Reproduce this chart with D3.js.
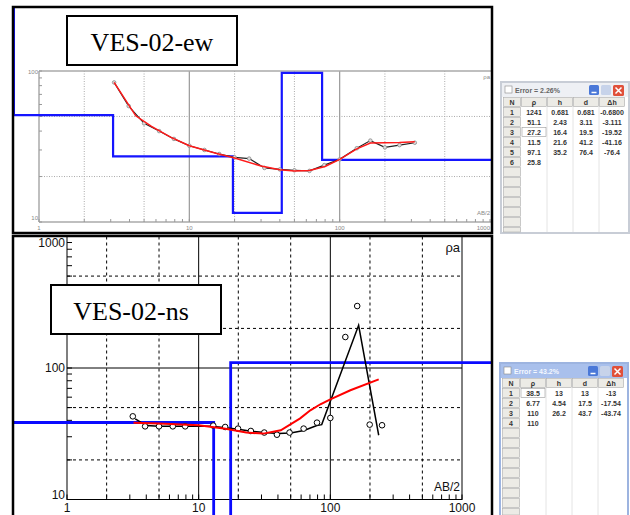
<!DOCTYPE html>
<html><head><meta charset="utf-8">
<script src="https://cdn.jsdelivr.net/npm/d3@7"></script>
<style>body{margin:0;background:#fff}svg{display:block}</style>
</head><body>
<script>
// ---------- DATA ----------
// Top panel (VES-02-ew)
const ewObsAB  = [3.16, 3.95, 5.0, 6.3, 7.9, 10, 12.6, 15.8, 20, 25, 31.6, 40, 50, 63, 79, 100, 130, 160, 200, 250, 316];
const ewObsRho = [84, 58.6, 45, 40, 35.5, 32, 30, 28.2, 26.8, 26.3, 22.8, 22.3, 22, 21.8, 23.8, 26, 30.8, 34.6, 31.2, 32.3, 33.5];
const ewCalcAB  = [3.16, 4.4, 5.6, 7.5, 10, 15, 20, 30, 40, 50, 63, 80, 100, 130, 160, 200, 250, 316];
const ewCalcRho = [84, 50.5, 43, 36.5, 32, 28.5, 26.5, 23.5, 22.2, 21.8, 21.9, 23.3, 26, 30.5, 33.3, 33.5, 33.6, 34];
const ewLayerRho = [1241, 51.1, 27.2, 11.5, 97.1, 25.8];
const ewLayerH   = ["0.681", "2.43", "16.4", "21.6", "35.2"];
const ewLayerD   = [0.681, 3.11, 19.5, 41.2, 76.4];
const ewLayerDh  = ["-0.6800", "-3.111", "-19.52", "-41.16", "-76.4"];
const ewRhoTxt   = ["1241", "51.1", "27.2", "11.5", "97.1", "25.8"];
const ewDTxt     = ["0.681", "3.11", "19.5", "41.2", "76.4"];
// Bottom panel (VES-02-ns)
const nsObsAB  = [3.16, 3.92, 5.0, 6.36, 7.9, 12.9, 15.9, 19.9, 24.9, 31.5, 39.3, 49, 62.7, 79.2, 100, 130, 160, 199, 247];
const nsObsRho = [42.9, 36, 36, 36, 36, 36.5, 35.6, 34.6, 33.2, 32.3, 31.1, 32.3, 34.6, 38.4, 41.7, 172, 296, 37.1, 36.7];
const nsLineAB  = [3.3, 4, 5, 8, 12.6, 16, 20, 25, 31.6, 40, 50, 63, 79, 86, 164, 233];
const nsLineRho = [41, 36.5, 36, 36, 36, 35.2, 34.2, 33, 32.3, 31.7, 32, 33.5, 36.5, 37.1, 211, 30.8];
const nsCalcAB  = [3.2, 5, 10, 16, 23, 31, 42, 59, 70.5, 84, 100, 142, 233];
const nsCalcRho = [38.4, 37.8, 36.7, 34.5, 32.3, 31.7, 33.6, 41.4, 47.7, 53, 57.8, 67.7, 82];
const nsLayerRho = [38.5, 6.77, 110, 110];
const nsLayerD   = [13, 17.5, 43.7];
const nsRhoTxt   = ["38.5", "6.77", "110", "110"];
const nsHTxt     = ["13", "4.54", "26.2"];
const nsDTxt     = ["13", "17.5", "43.7"];
const nsDhTxt    = ["-13", "-17.54", "-43.74"];
const xTickLabels = [1, 10, 100, 1000];
const titles = ["VES-02-ew", "VES-02-ns"];
const errTitles = ["Error = 2.26%", "Error = 43.2%"];
const tableHeads = ["N", "\u03C1", "h", "d", "\u0394h"];

// ---------- SETUP ----------
const svg = d3.select("body").append("svg").attr("width", 630).attr("height", 515);
svg.append("rect").attr("width", 630).attr("height", 515).attr("fill", "#fff");
const defs = svg.append("defs");
defs.append("clipPath").attr("id", "clipTop").append("rect").attr("x", 14).attr("y", 8).attr("width", 477).attr("height", 225);
defs.append("clipPath").attr("id", "clipBot").append("rect").attr("x", 14).attr("y", 237).attr("width", 477).attr("height", 280);

function modelPath(x, y, rhos, depths) {
  const pts = [];
  let prev = 0.001;
  rhos.forEach((r, i) => {
    const d = i < depths.length ? depths[i] : 1e5;
    pts.push([prev, r]); pts.push([d, r]);
    prev = d;
  });
  return d3.line().x(p => x(p[0])).y(p => y(p[1]))(pts);
}
const zip = (a, b) => a.map((v, i) => [v, b[i]]);

// ---------- TOP PANEL ----------
{
  const xT = d3.scaleLog().domain([1, 1000]).range([39, 490]);
  const yT = d3.scaleLog().domain([10, 100]).range([222, 71]);
  const g = svg.append("g").attr("clip-path", "url(#clipTop)");
  const gridX = [2, 5, 20, 50, 200, 500];
  const gridY = [20, 50];
  g.selectAll(".gx").data(gridX).join("line")
    .attr("x1", d => xT(d)).attr("x2", d => xT(d)).attr("y1", yT(100)).attr("y2", yT(10))
    .attr("stroke", "#aaa").attr("stroke-width", 1).attr("stroke-dasharray", "1,1.5");
  g.selectAll(".gy").data(gridY).join("line")
    .attr("x1", xT(1)).attr("x2", 492).attr("y1", d => yT(d)).attr("y2", d => yT(d))
    .attr("stroke", "#aaa").attr("stroke-width", 1).attr("stroke-dasharray", "1,1.5");
  g.selectAll(".sx").data([10, 100]).join("line")
    .attr("x1", d => xT(d)).attr("x2", d => xT(d)).attr("y1", yT(100)).attr("y2", yT(10))
    .attr("stroke", "#999").attr("stroke-width", 1.2);
  // axes
  g.append("line").attr("x1", xT(1)).attr("x2", 492).attr("y1", yT(100)).attr("y2", yT(100)).attr("stroke", "#aaa").attr("stroke-width", 1.5);
  g.append("line").attr("x1", xT(1)).attr("x2", 492).attr("y1", yT(10)).attr("y2", yT(10)).attr("stroke", "#aaa").attr("stroke-width", 1.5);
  g.append("line").attr("x1", xT(1)).attr("x2", xT(1)).attr("y1", yT(100)).attr("y2", yT(10)).attr("stroke", "#aaa").attr("stroke-width", 1.5);
  g.selectAll(".ty").data(yT.ticks()).join("line")
    .attr("x1", xT(1)).attr("x2", xT(1) + 3).attr("y1", d => yT(d)).attr("y2", d => yT(d)).attr("stroke", "#999");
  g.selectAll(".tx").data(xT.ticks()).join("line")
    .attr("x1", d => xT(d)).attr("x2", d => xT(d)).attr("y1", yT(10)).attr("y2", yT(10) - 3).attr("stroke", "#999");
  // labels
  const lab = svg.append("g").attr("font-family", "Liberation Sans, Arial, sans-serif").attr("font-size", 6).attr("fill", "#888");
  lab.append("text").attr("x", xT(1) - 1).attr("y", yT(100) + 3).attr("text-anchor", "end").text("100");
  lab.append("text").attr("x", xT(1) - 1).attr("y", yT(10) - 2).attr("text-anchor", "end").text("10");
  lab.selectAll(".xl").data(xTickLabels).join("text")
    .attr("x", d => xT(d)).attr("y", yT(10) + 8).attr("text-anchor", d => d === 1000 ? "end" : "middle").text(d => d);
  lab.append("text").attr("x", 490).attr("y", 79).attr("text-anchor", "end").text("\u03C1a");
  lab.append("text").attr("x", 490).attr("y", 215).attr("text-anchor", "end").text("AB/2");
  // model
  g.append("path").attr("d", modelPath(xT, yT, ewLayerRho, ewLayerD)).attr("fill", "none").attr("stroke", "#1515ff").attr("stroke-width", 2.2);
  // observed
  const line = d3.line().x(p => xT(p[0])).y(p => yT(p[1]));
  g.append("path").attr("d", line(zip(ewObsAB, ewObsRho))).attr("fill", "none").attr("stroke", "#222").attr("stroke-width", 1.2);
  g.selectAll(".ob").data(zip(ewObsAB, ewObsRho)).join("circle")
    .attr("cx", p => xT(p[0])).attr("cy", p => yT(p[1])).attr("r", 1.8)
    .attr("fill", "#ddd").attr("stroke", "#888").attr("stroke-width", 0.8);
  g.append("path").attr("d", line(zip(ewCalcAB, ewCalcRho))).attr("fill", "none").attr("stroke", "#ff1a1a").attr("stroke-width", 1.5);
  // title box
  svg.append("rect").attr("x", 67).attr("y", 16).attr("width", 170).attr("height", 49).attr("fill", "#fff").attr("stroke", "#000").attr("stroke-width", 2);
  svg.append("text").attr("x", 152).attr("y", 51).attr("text-anchor", "middle")
    .attr("font-family", "Liberation Serif, Times New Roman, serif").attr("font-size", 26).text(titles[0]);
  svg.append("rect").attr("x", 13).attr("y", 7).attr("width", 479).attr("height", 226).attr("fill", "none").attr("stroke", "#000").attr("stroke-width", 2.5);
}

// ---------- BOTTOM PANEL ----------
{
  const xB = d3.scaleLog().domain([1, 1000]).range([67, 462]);
  const yB = d3.scaleLog().domain([10, 1000]).range([499.5, 236.5]);
  const g = svg.append("g").attr("clip-path", "url(#clipBot)");
  const gridX = [2, 5, 20, 50, 200, 500];
  const gridY = [20, 50, 200, 500];
  g.selectAll(".gx").data(gridX).join("line")
    .attr("x1", d => xB(d)).attr("x2", d => xB(d)).attr("y1", yB(1000)).attr("y2", yB(10))
    .attr("stroke", "#000").attr("stroke-width", 1).attr("stroke-dasharray", "3,3");
  g.selectAll(".gy").data(gridY).join("line")
    .attr("x1", xB(1)).attr("x2", xB(1000)).attr("y1", d => yB(d)).attr("y2", d => yB(d))
    .attr("stroke", "#000").attr("stroke-width", 1).attr("stroke-dasharray", "3,3");
  g.selectAll(".sx").data([10, 100]).join("line")
    .attr("x1", d => xB(d)).attr("x2", d => xB(d)).attr("y1", yB(1000)).attr("y2", yB(10))
    .attr("stroke", "#000").attr("stroke-width", 1);
  g.append("line").attr("x1", xB(1)).attr("x2", xB(1000)).attr("y1", yB(100)).attr("y2", yB(100)).attr("stroke", "#000").attr("stroke-width", 1);
  // axes box
  g.append("rect").attr("x", xB(1)).attr("y", yB(1000)).attr("width", xB(1000) - xB(1)).attr("height", yB(10) - yB(1000))
    .attr("fill", "none").attr("stroke", "#000").attr("stroke-width", 1);
  g.selectAll(".ty").data(yB.ticks()).join("line")
    .attr("x1", xB(1)).attr("x2", xB(1) + 5).attr("y1", d => yB(d)).attr("y2", d => yB(d)).attr("stroke", "#000");
  g.selectAll(".tx").data(xB.ticks()).join("line")
    .attr("x1", d => xB(d)).attr("x2", d => xB(d)).attr("y1", yB(10)).attr("y2", yB(10) - 5).attr("stroke", "#000");
  const lab = svg.append("g").attr("font-family", "Liberation Sans, Arial, sans-serif").attr("font-size", 12).attr("fill", "#111");
  lab.append("text").attr("x", xB(1) - 2).attr("y", yB(1000) + 10).attr("text-anchor", "end").text("1000");
  lab.append("text").attr("x", xB(1) - 2).attr("y", yB(100) + 4).attr("text-anchor", "end").text("100");
  lab.append("text").attr("x", xB(1) - 2).attr("y", yB(10) - 1).attr("text-anchor", "end").text("10");
  lab.selectAll(".xl").data(xTickLabels).join("text")
    .attr("x", d => xB(d)).attr("y", yB(10) + 12).attr("text-anchor", "middle").text(d => d);
  lab.append("text").attr("x", 460).attr("y", 252).attr("text-anchor", "end").attr("font-size", 13).text("\u03C1a");
  lab.append("text").attr("x", 460).attr("y", 491).attr("text-anchor", "end").text("AB/2");
  // model
  g.append("path").attr("d", modelPath(xB, yB, nsLayerRho, nsLayerD)).attr("fill", "none").attr("stroke", "#0a0aff").attr("stroke-width", 2.8);
  const line = d3.line().x(p => xB(p[0])).y(p => yB(p[1]));
  g.append("path").attr("d", line(zip(nsLineAB, nsLineRho))).attr("fill", "none").attr("stroke", "#000").attr("stroke-width", 1.5);
  g.selectAll(".ob").data(zip(nsObsAB, nsObsRho)).join("circle")
    .attr("cx", p => xB(p[0])).attr("cy", p => yB(p[1])).attr("r", 2.8)
    .attr("fill", "#fff").attr("stroke", "#000").attr("stroke-width", 1);
  g.append("path").attr("d", line(zip(nsCalcAB, nsCalcRho))).attr("fill", "none").attr("stroke", "#ff0000").attr("stroke-width", 2);
  svg.append("rect").attr("x", 51).attr("y", 285).attr("width", 170).attr("height", 49).attr("fill", "#fff").attr("stroke", "#000").attr("stroke-width", 2);
  svg.append("text").attr("x", 131).attr("y", 320).attr("text-anchor", "middle")
    .attr("font-family", "Liberation Serif, Times New Roman, serif").attr("font-size", 26).text(titles[1]);
  svg.append("rect").attr("x", 13).attr("y", 236).attr("width", 479).attr("height", 300).attr("fill", "none").attr("stroke", "#000").attr("stroke-width", 2.5);
}

// ---------- TABLE WINDOWS ----------
function tableWin(x0, y0, bottom, title, cols, focusRow, active) {
  const g = svg.append("g").attr("font-family", "Liberation Sans, Arial, sans-serif");
  const w = 128;
  g.append("rect").attr("x", x0).attr("y", y0).attr("width", w).attr("height", bottom - y0)
    .attr("fill", "#fff").attr("stroke", active ? "#9db4e0" : "#c8cdd6").attr("stroke-width", 2);
  const tb = active ? "#a9c0ec" : "#eef0f4";
  g.append("rect").attr("x", x0 + 1).attr("y", y0 + 1).attr("width", w - 2).attr("height", 14).attr("fill", tb);
  g.append("rect").attr("x", x0 + 4).attr("y", y0 + 4).attr("width", 7).attr("height", 7).attr("fill", "#fff").attr("stroke", "#888").attr("stroke-width", 0.6);
  g.append("text").attr("x", x0 + 14).attr("y", y0 + 11).attr("font-size", 7).attr("font-weight", "bold")
    .attr("fill", active ? "#f4f8ff" : "#666").text(title);
  // buttons
  g.append("rect").attr("x", x0 + 88).attr("y", y0 + 3).attr("width", 10).attr("height", 10).attr("rx", 1.5).attr("fill", "#4a78d8");
  g.append("line").attr("x1", x0 + 90.5).attr("x2", x0 + 95.5).attr("y1", y0 + 10.5).attr("y2", y0 + 10.5).attr("stroke", "#fff").attr("stroke-width", 1.5);
  g.append("rect").attr("x", x0 + 100).attr("y", y0 + 3).attr("width", 10).attr("height", 10).attr("rx", 1.5).attr("fill", "#c7d3ea");
  g.append("rect").attr("x", x0 + 112).attr("y", y0 + 3).attr("width", 11).attr("height", 11).attr("rx", 1.5).attr("fill", "#e0503a");
  g.append("path").attr("d", `M${x0 + 114.5},${y0 + 5.5}L${x0 + 120.5},${y0 + 11.5}M${x0 + 120.5},${y0 + 5.5}L${x0 + 114.5},${y0 + 11.5}`)
    .attr("stroke", "#fff").attr("stroke-width", 1.5);
  const colX = [x0 + 2, x0 + 20, x0 + 46, x0 + 72, x0 + 98, x0 + 124];
  const top = y0 + 15, rowH = 10;
  const nRows = Math.ceil((bottom - top) / rowH);
  // header cells
  tableHeads.forEach((h, i) => {
    g.append("rect").attr("x", colX[i] + 0.5).attr("y", top + 0.5).attr("width", colX[i + 1] - colX[i] - 1).attr("height", rowH - 1)
      .attr("fill", "#ecebe6").attr("stroke", "#aaa").attr("stroke-width", 0.6);
    g.append("text").attr("x", (colX[i] + colX[i + 1]) / 2).attr("y", top + 7.5).attr("text-anchor", "middle")
      .attr("font-size", 7).attr("font-weight", "bold").attr("fill", "#333").text(h);
  });
  // N column cells
  for (let r = 1; r < nRows; r++) {
    const yy = top + r * rowH;
    if (yy + 2 > bottom) break;
    g.append("rect").attr("x", colX[0] + 0.5).attr("y", yy + 0.5).attr("width", colX[1] - colX[0] - 1).attr("height", Math.min(rowH - 1, bottom - yy - 1.5))
      .attr("fill", "#ecebe6").attr("stroke", "#aaa").attr("stroke-width", 0.6);
  }
  // vertical separators in data area
  colX.slice(2, 5).forEach(cx => {
    g.append("line").attr("x1", cx).attr("x2", cx).attr("y1", top + rowH).attr("y2", bottom - 1).attr("stroke", "#ddd").attr("stroke-width", 0.8);
  });
  const nums = cols[0].map((_, i) => String(i + 1));
  const allCols = [nums].concat(cols);
  allCols.forEach((col, ci) => {
    col.forEach((v, ri) => {
      g.append("text").attr("x", (colX[ci] + colX[ci + 1]) / 2).attr("y", top + (ri + 1) * rowH + 7.5).attr("text-anchor", "middle")
        .attr("font-size", 7).attr("font-weight", "bold").attr("fill", "#333").text(v);
    });
  });
  if (focusRow != null) {
    g.append("rect").attr("x", colX[1] + 1).attr("y", top + (focusRow + 1) * rowH + 0.5).attr("width", colX[2] - colX[1] - 2).attr("height", rowH - 1)
      .attr("fill", "none").attr("stroke", "#999").attr("stroke-width", 0.6);
  }
}
tableWin(501, 82, 233, errTitles[0], [ewRhoTxt, ewLayerH, ewDTxt, ewLayerDh], 2, false);
tableWin(500, 363, 516, errTitles[1], [nsRhoTxt, nsHTxt, nsDTxt, nsDhTxt], 0, true);
</script>
</body></html>
